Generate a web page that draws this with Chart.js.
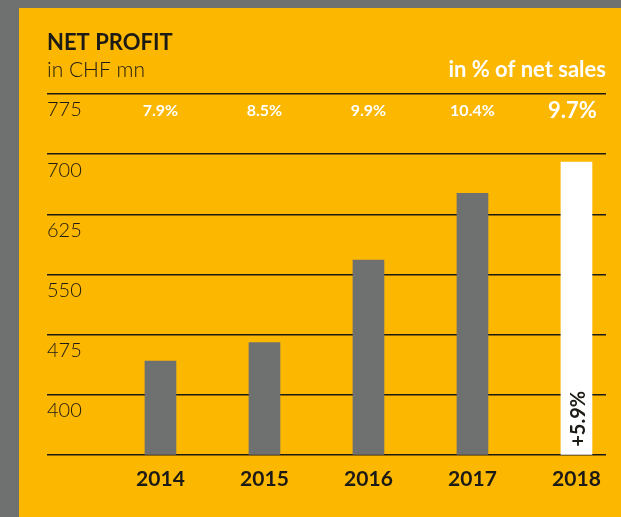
<!DOCTYPE html>
<html>
<head>
<meta charset="utf-8">
<script src="https://cdn.jsdelivr.net/npm/chart.js@4/dist/chart.umd.min.js"></script>
<style>
  html, body { margin: 0; padding: 0; background: #6f7170; }
  #wrap { position: absolute; left: 0; top: 0; width: 621px; height: 517px; }
</style>
</head>
<body>
<div id="wrap"><canvas id="profit" width="621" height="517"></canvas></div>
<script>
// data
var years = [2014, 2015, 2016, 2017, 2018];
var netProfit = [442, 465, 568, 651, 690];
var pctOfSales = ["7.9%", "8.5%", "9.9%", "10.4%", "9.7%"];
var growth = ["", "", "", "", "+5.9%"];
var yTicks = [325, 400, 475, 550, 625, 700, 775];
var yTickLabels = ["", "400", "475", "550", "625", "700", "775"];

var YELLOW = "#fcb700";
var GREY = "#6f7170";
var INK = "#1c1a14";
var FONT = "Lato, 'Open Sans', sans-serif";

var panel = {
    id: "panel",
    beforeDraw: function (chart) {
        var ctx = chart.ctx;
        ctx.save();
        ctx.fillStyle = GREY;
        ctx.fillRect(0, 0, chart.width, chart.height);
        ctx.fillStyle = YELLOW;
        ctx.fillRect(19, 8, chart.width - 19, chart.height - 8);
        ctx.restore();
    },
    afterDraw: function (chart) {
        var ctx = chart.ctx;
        var xs = chart.scales.x;
        var ys = chart.scales.y;
        ctx.save();
        ctx.textBaseline = "alphabetic";

        ctx.fillStyle = INK;
        ctx.textAlign = "left";
        ctx.font = "bold 22px " + FONT;
        ctx.fillText("NET PROFIT", 47, 50);
        ctx.font = "300 21px " + FONT;
        ctx.fillText("in CHF mn", 47, 77);

        ctx.fillStyle = "#fff";
        ctx.textAlign = "right";
        ctx.font = "bold 22px " + FONT;
        ctx.fillText("in % of net sales", 606, 77);

        // % of net sales row
        ctx.textAlign = "center";
        ctx.textBaseline = "middle";
        pctOfSales.forEach(function (t, i) {
            var last = i === pctOfSales.length - 1;
            ctx.font = "bold " + (last ? 22 : 16) + "px " + FONT;
            ctx.fillText(t, xs.getPixelForValue(years[i]) - (last ? 4 : 0), 111);
        });

        // growth label inside the bar
        ctx.fillStyle = INK;
        ctx.font = "bold 20px " + FONT;
        ctx.textAlign = "left";
        growth.forEach(function (t, i) {
            if (!t) return;
            ctx.save();
            ctx.translate(xs.getPixelForValue(years[i]) + 2, ys.getPixelForValue(ys.min) - 8);
            ctx.rotate(-Math.PI / 2);
            ctx.fillText(t, 0, 0);
            ctx.restore();
        });
        ctx.restore();
    },
};

new Chart(document.getElementById("profit").getContext("2d"), {
    type: "bar",
    data: {
        datasets: [
            {
                data: years.map(function (y, i) {
                    return { x: y, y: netProfit[i] };
                }),
                backgroundColor: years.map(function (y, i) {
                    return i === years.length - 1 ? "#ffffff" : GREY;
                }),
                barThickness: 31,
                borderWidth: 0,
            },
        ],
    },
    options: {
        responsive: false,
        animation: false,
        layout: { padding: { left: 47, right: 15, top: 94, bottom: 13 } },
        plugins: { legend: { display: false }, tooltip: { enabled: false } },
        scales: {
            x: {
                type: "linear",
                offset: false,
                min: 2012.909,
                max: 2018.284,
                afterBuildTicks: function (axis) {
                    axis.ticks = years.map(function (y) {
                        return { value: y };
                    });
                },
                grid: { display: false, drawTicks: false },
                border: { display: false },
                ticks: {
                    padding: 12,
                    color: INK,
                    font: { family: FONT, size: 21, weight: "bold" },
                    callback: function (v) {
                        return String(v);
                    },
                },
            },
            y: {
                min: 325,
                max: 775,
                afterBuildTicks: function (axis) {
                    axis.ticks = yTicks.map(function (v) {
                        return { value: v };
                    });
                },
                grid: { color: INK, lineWidth: 1.5, drawTicks: false },
                border: { display: false },
                ticks: {
                    mirror: true,
                    padding: 0,
                    labelOffset: 16,
                    color: INK,
                    font: { family: FONT, size: 20, weight: "300" },
                    callback: function (v) {
                        return yTickLabels[yTicks.indexOf(v)];
                    },
                },
            },
        },
    },
    plugins: [panel],
});
</script>
</body>
</html>
